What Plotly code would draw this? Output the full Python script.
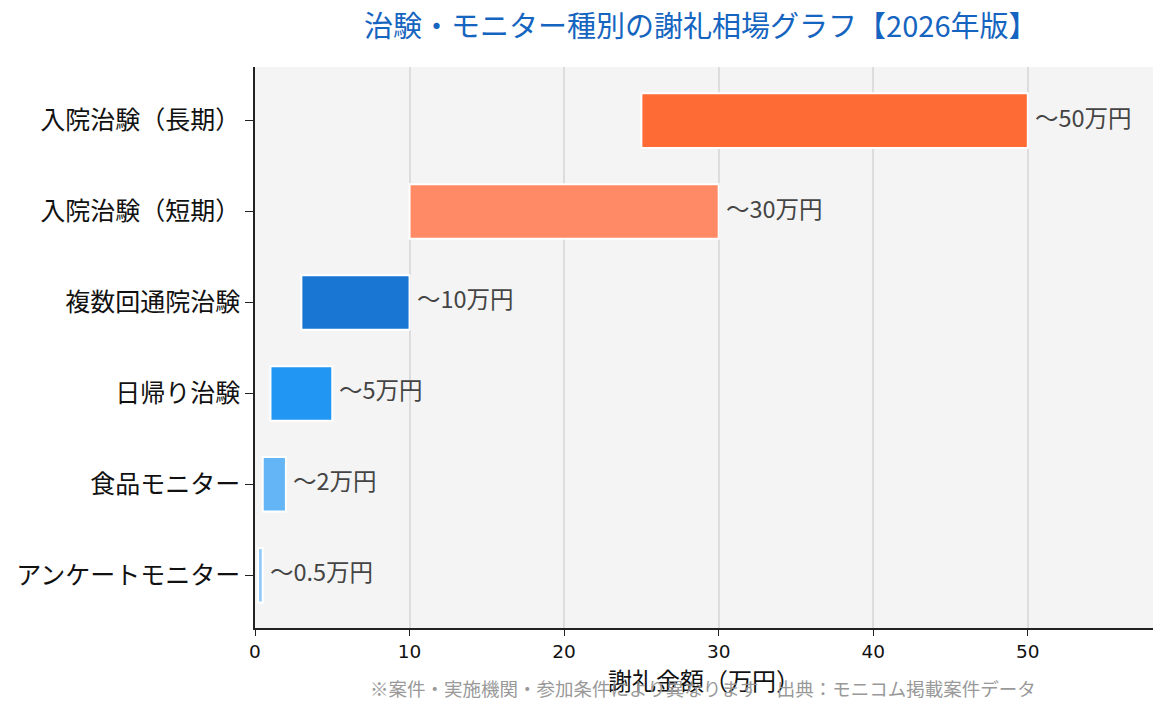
import plotly.graph_objects as go

categories = ["アンケートモニター", "食品モニター", "日帰り治験", "複数回通院治験", "入院治験（短期）", "入院治験（長期）"]
range_min = [0.2, 0.5, 1, 3, 10, 25]
range_max = [0.5, 2, 5, 10, 30, 50]
value_labels = ["〜0.5万円", "〜2万円", "〜5万円", "〜10万円", "〜30万円", "〜50万円"]
colors = ["#90CAF9", "#64B5F6", "#2196F3", "#1976D2", "#FF8A65", "#FF6B35"]
x_ticks = [0, 10, 20, 30, 40, 50]

FONT = "Noto Sans CJK JP"

fig = go.Figure()
fig.add_trace(go.Bar(
    y=categories,
    x=[hi - lo for lo, hi in zip(range_min, range_max)],
    base=range_min,
    orientation="h",
    width=0.6,
    marker=dict(color=colors, line=dict(color="white", width=2)),
    hoverinfo="skip",
    showlegend=False,
))

for cat, hi, lab in zip(categories, range_max, value_labels):
    fig.add_annotation(
        x=hi, y=cat, xref="x", yref="y",
        text=lab, showarrow=False,
        xanchor="left", yanchor="middle", xshift=5, yshift=4,
        font=dict(family=FONT, size=23.5, color="#444444"),
    )

fig.update_layout(
    width=1168, height=714,
    margin=dict(l=255, r=15, t=67, b=86),
    paper_bgcolor="white",
    plot_bgcolor="#F4F4F4",
    font=dict(family=FONT, color="#111111"),
    title=dict(
        text="治験・モニター種別の謝礼相場グラフ【2026年版】",
        font=dict(family=FONT, size=29, color="#1565C0"),
        x=0.6, xanchor="center", y=0.962, yanchor="middle",
    ),
    bargap=0.4,
)
fig.update_xaxes(
    range=[0, 58.1],
    tickvals=x_ticks,
    ticktext=[str(t) for t in x_ticks],
    tickfont=dict(family="DejaVu Sans", size=18.5, color="#111111"),
    showgrid=True, gridcolor="#DDDDDD", gridwidth=1.5,
    zeroline=False,
    showline=True, linecolor="#222222", linewidth=1.5,
    ticks="outside", ticklen=6, tickcolor="#222222",
    title=dict(text="謝礼金額（万円）", font=dict(family=FONT, size=24, color="#111111"), standoff=6),
)
fig.update_yaxes(
    range=[-0.58, 5.59],
    tickfont=dict(family=FONT, size=25, color="#111111"),
    showgrid=False,
    showline=True, linecolor="#222222", linewidth=1.5,
    ticks="outside", ticklen=8, tickcolor="#222222",
)
fig.add_annotation(
    text="※案件・実施機関・参加条件により異なります　出典：モニコム掲載案件データ",
    xref="paper", yref="paper", x=0.499, y=-0.107, xanchor="center", yanchor="middle",
    showarrow=False,
    font=dict(family=FONT, size=18.5, color="#999999"),
)

fig.write_html("out.html")
